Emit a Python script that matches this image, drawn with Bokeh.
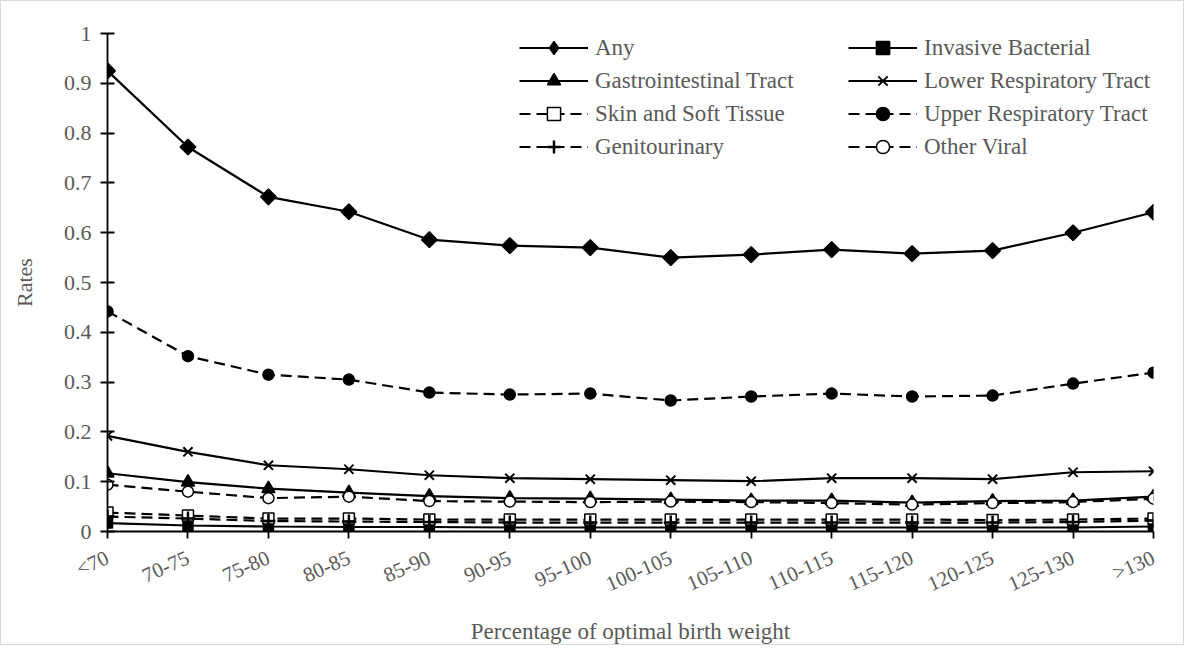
import math
from bokeh.plotting import figure
from bokeh.models import Range1d, FixedTicker, Legend, LegendItem, NumeralTickFormatter
from bokeh.embed import file_html
from bokeh.resources import INLINE

categories = ["<70", "70-75", "75-80", "80-85", "85-90", "90-95", "95-100",
              "100-105", "105-110", "110-115", "115-120", "120-125", "125-130", ">130"]

any_rate = [0.925, 0.772, 0.672, 0.642, 0.586, 0.574, 0.570, 0.550, 0.556, 0.566, 0.558, 0.564, 0.600, 0.641]
invasive_bacterial = [0.017, 0.012, 0.010, 0.009, 0.009, 0.008, 0.008, 0.008, 0.008, 0.008, 0.008, 0.008, 0.008, 0.010]
gastrointestinal = [0.117, 0.099, 0.086, 0.078, 0.071, 0.067, 0.066, 0.064, 0.062, 0.062, 0.058, 0.061, 0.062, 0.070]
lower_respiratory = [0.192, 0.160, 0.133, 0.125, 0.113, 0.107, 0.105, 0.103, 0.101, 0.107, 0.107, 0.105, 0.119, 0.121]
skin_soft_tissue = [0.038, 0.032, 0.026, 0.026, 0.024, 0.024, 0.024, 0.024, 0.024, 0.024, 0.024, 0.023, 0.024, 0.026]
upper_respiratory = [0.442, 0.352, 0.315, 0.305, 0.279, 0.275, 0.277, 0.263, 0.271, 0.277, 0.271, 0.273, 0.297, 0.319]
genitourinary = [0.030, 0.026, 0.021, 0.020, 0.019, 0.018, 0.018, 0.018, 0.018, 0.018, 0.018, 0.018, 0.019, 0.022]
other_viral = [0.094, 0.080, 0.067, 0.070, 0.061, 0.060, 0.059, 0.060, 0.059, 0.057, 0.054, 0.057, 0.059, 0.066]

y_ticks = [0, 0.1, 0.2, 0.3, 0.4, 0.5, 0.6, 0.7, 0.8, 0.9, 1]

x = list(range(len(categories)))
GREY = "#595959"
FONT = "Liberation Serif"

p = figure(width=1184, height=645, output_backend="svg", toolbar_location=None,
           x_range=Range1d(0, len(categories) - 1), y_range=Range1d(0, 1),
           min_border_left=106, min_border_right=32, min_border_top=32, min_border_bottom=106)
p.styles = {"border": "1px solid #d9d9d9"}
p.outline_line_color = None
p.xgrid.visible = False
p.ygrid.visible = False
p.background_fill_color = "white"

# axes
p.yaxis.ticker = FixedTicker(ticks=y_ticks)
p.yaxis.formatter = NumeralTickFormatter(format="0.[0]")
p.yaxis.major_tick_in = 7
p.yaxis.major_tick_out = 7
p.yaxis.minor_tick_line_color = None
p.yaxis.axis_line_width = 1.8
p.yaxis.major_tick_line_width = 1.8
p.yaxis.axis_line_color = "black"
p.yaxis.major_tick_line_color = "black"
p.yaxis.major_label_text_font = FONT
p.yaxis.major_label_text_font_size = "22px"
p.yaxis.major_label_text_color = GREY
p.yaxis.major_label_standoff = 9
p.yaxis.axis_label = "Rates"
p.yaxis.axis_label_text_font = FONT
p.yaxis.axis_label_text_font_size = "22px"
p.yaxis.axis_label_text_font_style = "normal"
p.yaxis.axis_label_text_color = GREY
p.yaxis.axis_label_standoff = 24

p.xaxis.ticker = FixedTicker(ticks=x)
p.xaxis.major_label_overrides = {i: c for i, c in enumerate(categories)}
p.xaxis.major_tick_in = 0
p.xaxis.major_tick_out = 7
p.xaxis.minor_tick_line_color = None
p.xaxis.axis_line_width = 1.8
p.xaxis.major_tick_line_width = 1.8
p.xaxis.axis_line_color = "black"
p.xaxis.major_tick_line_color = "black"
p.xaxis.major_label_text_font = FONT
p.xaxis.major_label_text_font_size = "21px"
p.xaxis.major_label_text_color = GREY
p.xaxis.major_label_orientation = 0.42
p.xaxis.major_label_standoff = 18
p.xaxis.axis_label = "Percentage of optimal birth weight"
p.xaxis.axis_label_text_font = FONT
p.xaxis.axis_label_text_font_size = "23px"
p.xaxis.axis_label_text_font_style = "normal"
p.xaxis.axis_label_text_color = GREY
p.xaxis.axis_label_standoff = 9

LW = 2.2
DASH = "11 6"

def series(vals, marker, size, fill, dash="solid", angle=0.0, mlw=1.5):
    ln = p.line(x, vals, line_color="black", line_width=LW, line_dash=dash)
    sc = p.scatter(x, vals, marker=marker, size=size, angle=angle,
                   line_color="black", fill_color=fill, line_width=mlw)
    return [ln, sc]

r_any = series(any_rate, "square", 11, "black", angle=math.pi / 4)
# legend-only diamond (the legend does not rotate markers)
any_key = p.scatter(x[:1], [float("nan")], marker="diamond", size=12,
                    line_color="black", fill_color="black", line_width=1.5)
r_inv = series(invasive_bacterial, "square", 10, "black")
r_gi = series(gastrointestinal, "triangle", 13, "black")
r_lr = series(lower_respiratory, "x", 13, "black", mlw=2)
r_skin = series(skin_soft_tissue, "square", 11, "white", dash=DASH)
r_ur = series(upper_respiratory, "circle", 11, "black", dash=DASH)
r_gu = series(genitourinary, "cross", 14, "black", dash=DASH, mlw=2.5)
r_ov = series(other_viral, "circle", 11, "white", dash=DASH)

items = [
    LegendItem(label="Any", renderers=[r_any[0], any_key]),
    LegendItem(label="Gastrointestinal Tract", renderers=r_gi),
    LegendItem(label="Skin and Soft Tissue", renderers=r_skin),
    LegendItem(label="Genitourinary", renderers=r_gu),
    LegendItem(label="Invasive Bacterial", renderers=r_inv),
    LegendItem(label="Lower Respiratory Tract", renderers=r_lr),
    LegendItem(label="Upper Respiratory Tract", renderers=r_ur),
    LegendItem(label="Other Viral", renderers=r_ov),
]
legend = Legend(items=items, location=(412, 368), orientation="vertical", nrows=4,
                padding=0, margin=0, spacing=0, border_line_color=None,
                background_fill_alpha=0, glyph_width=69, glyph_height=33,
                label_height=33, label_width=253, label_standoff=7,
                label_text_font=FONT, label_text_font_size="23px",
                label_text_color=GREY, label_text_baseline="middle")
p.add_layout(legend)

open("out.html", "w").write(file_html(p, INLINE))
